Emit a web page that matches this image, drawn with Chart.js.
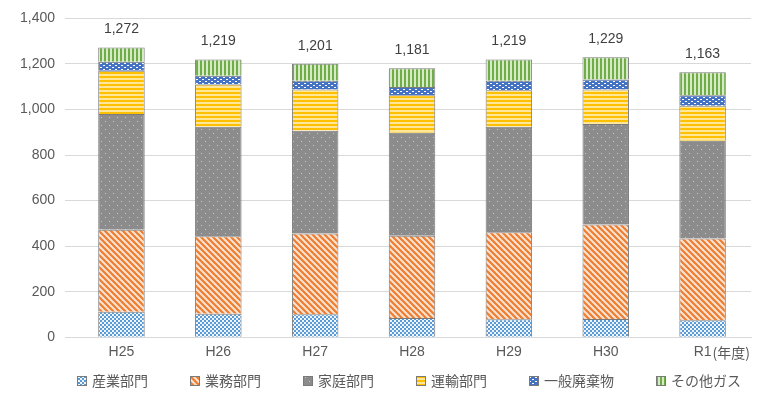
<!DOCTYPE html>
<html>
<head>
<meta charset="utf-8">
<script src="https://cdn.jsdelivr.net/npm/chart.js@4.4.0/dist/chart.umd.min.js"></script>
<style>
    html, body { margin: 0; padding: 0; background: #fff; }
    #wrap { width: 760px; height: 398px; position: relative; }
</style>
</head>
<body>
<div id="wrap"><canvas id="emissionChart"></canvas></div>
<script>
// 年度別 温室効果ガス排出量（部門別）
const years = ['H25', 'H26', 'H27', 'H28', 'H29', 'H30', 'R1'];
const sangyo = [112, 103, 101, 84, 79, 80, 74];        // 産業部門
const gyomu = [360, 340, 354, 362, 382, 415, 359];      // 業務部門
const katei = [508, 481, 452, 452, 463, 441, 430];      // 家庭部門
const unyu = [190, 186, 181, 165, 161, 152, 153];       // 運輸部門
const haikibutsu = [40, 38, 38, 36, 41, 44, 46];        // 一般廃棄物
const sonota = [62, 71, 75, 82, 93, 97, 101];           // その他ガス
const totals = [1272, 1219, 1201, 1181, 1219, 1229, 1163];
const yTicks = [0, 200, 400, 600, 800, 1000, 1200, 1400];

const fontJP = "'Noto Sans CJK JP', 'Noto Sans', sans-serif";
const fontNum = "'Liberation Sans', sans-serif";

function makePattern(w, h, draw) {
    const c = document.createElement('canvas');
    c.width = w;
    c.height = h;
    const g = c.getContext('2d');
    draw(g, w, h);
    return g.createPattern(c, 'repeat');
}

// 産業: blue checker
const patSangyo = makePattern(4, 4, (g) => {
    g.fillStyle = '#eef5fc';
    g.fillRect(0, 0, 4, 4);
    g.fillStyle = '#5b9bd5';
    g.fillRect(0, 0, 2, 2);
    g.fillRect(2, 2, 2, 2);
});

// 業務: orange diagonal stripes
const patGyomu = makePattern(6, 6, (g) => {
    g.fillStyle = '#fbe3d2';
    g.fillRect(0, 0, 6, 6);
    g.strokeStyle = '#ed7d31';
    g.lineWidth = 2.2;
    g.beginPath();
    g.moveTo(-3, -3); g.lineTo(9, 9);
    g.moveTo(-3, 3); g.lineTo(3, 9);
    g.moveTo(3, -3); g.lineTo(9, 3);
    g.stroke();
});

// 家庭: gray with light dots
const patKatei = makePattern(8, 8, (g) => {
    g.fillStyle = '#8c8c8c';
    g.fillRect(0, 0, 8, 8);
    g.fillStyle = '#c4c4c4';
    g.fillRect(1, 1, 1, 1);
    g.fillRect(5, 5, 1, 1);
});

// 運輸: yellow horizontal stripes
const patUnyu = makePattern(4, 4, (g) => {
    g.fillStyle = '#ffe699';
    g.fillRect(0, 0, 4, 4);
    g.fillStyle = '#ffc000';
    g.fillRect(0, 0, 4, 2);
});

// 一般廃棄物: blue with white dots
const patHaiki = makePattern(6, 4, (g) => {
    g.fillStyle = '#4472c4';
    g.fillRect(0, 0, 6, 4);
    g.fillStyle = '#ffffff';
    g.fillRect(1, 1, 2, 1);
    g.fillRect(4, 3, 2, 1);
});

// その他: green vertical stripes
const patSonota = makePattern(4, 4, (g) => {
    g.fillStyle = '#d5ebc6';
    g.fillRect(0, 0, 4, 4);
    g.fillStyle = '#70ad47';
    g.fillRect(0, 0, 2, 4);
});

// totals above bars + (年度) after the last category label
const totalLabels = {
    id: 'totalLabels',
    afterDatasetsDraw(chart) {
        const ctx = chart.ctx;
        const x = chart.scales.x;
        const y = chart.scales.y;
        ctx.save();
        ctx.font = "14px " + fontNum;
        ctx.fillStyle = '#404040';
        ctx.textAlign = 'center';
        ctx.textBaseline = 'bottom';
        totals.forEach((t, i) => {
            ctx.fillText(t.toLocaleString('en-US'), x.getPixelForValue(i), y.getPixelForValue(t) - 11);
        });
        ctx.font = "14px " + fontJP;
        ctx.fillStyle = '#595959';
        ctx.textAlign = 'left';
        ctx.textBaseline = 'middle';
        ctx.fillText('(年度)', x.getPixelForValue(years.length - 1) + 10, x.top + 15);
        ctx.restore();
    }
};

// legend row under the axis, spaced like the original
const bottomLegend = {
    id: 'bottomLegend',
    afterDraw(chart) {
        const ctx = chart.ctx;
        const sets = chart.data.datasets;
        const gap = 42;
        const box = 10;
        ctx.save();
        ctx.font = "14px " + fontJP;
        const widths = sets.map(d => box + 5 + ctx.measureText(d.label).width);
        const total = widths.reduce((a, b) => a + b, 0) + gap * (sets.length - 1);
        const cx = (chart.chartArea.left + chart.chartArea.right) / 2 - 3;
        let xPos = cx - total / 2;
        const yMid = 381;
        ctx.textBaseline = 'middle';
        ctx.textAlign = 'left';
        sets.forEach((d, i) => {
            ctx.fillStyle = d.backgroundColor;
            ctx.fillRect(xPos, yMid - box / 2, box, box);
            ctx.strokeStyle = d.borderColor;
            ctx.lineWidth = 1;
            ctx.strokeRect(xPos + 0.5, yMid - box / 2 + 0.5, box - 1, box - 1);
            ctx.fillStyle = '#595959';
            ctx.fillText(d.label, xPos + box + 5, yMid);
            xPos += widths[i] + gap;
        });
        ctx.restore();
    }
};

function ds(label, data, pattern) {
    return {
        label: label,
        data: data,
        backgroundColor: pattern,
        borderColor: '#7a7a7a',
        borderWidth: 1,
        barPercentage: 0.48,
        categoryPercentage: 1.0
    };
}

const ctx = document.getElementById('emissionChart').getContext('2d');
new Chart(ctx, {
    type: 'bar',
    data: {
        labels: years,
        datasets: [
            ds('産業部門', sangyo, patSangyo),
            ds('業務部門', gyomu, patGyomu),
            ds('家庭部門', katei, patKatei),
            ds('運輸部門', unyu, patUnyu),
            ds('一般廃棄物', haikibutsu, patHaiki),
            ds('その他ガス', sonota, patSonota)
        ]
    },
    options: {
        responsive: true,
        maintainAspectRatio: false,
        animation: false,
        layout: {
            padding: { left: 10, right: 9, top: 11, bottom: 30 }
        },
        plugins: {
            legend: { display: false },
            tooltip: { enabled: false }
        },
        scales: {
            x: {
                stacked: true,
                grid: { display: false, drawTicks: false },
                border: { color: '#d9d9d9' },
                ticks: {
                    color: '#595959',
                    padding: 7,
                    font: { family: fontNum, size: 14 }
                }
            },
            y: {
                stacked: true,
                min: 0,
                max: 1400,
                afterBuildTicks: (axis) => {
                    axis.ticks = yTicks.map(v => ({ value: v }));
                },
                grid: { color: '#d9d9d9' },
                border: { display: false },
                ticks: {
                    color: '#595959',
                    padding: 10,
                    font: { family: fontNum, size: 14 },
                    callback: (v) => v.toLocaleString('en-US')
                }
            }
        }
    },
    plugins: [totalLabels, bottomLegend]
});
</script>
</body>
</html>
